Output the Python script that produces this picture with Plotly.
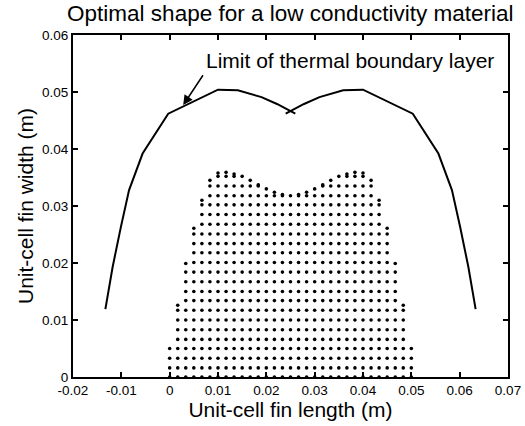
import plotly.graph_objects as go

# ---------------- data ----------------
x_tick_vals = [-0.02, -0.01, 0.0, 0.01, 0.02, 0.03, 0.04, 0.05, 0.06, 0.07]
x_tick_text = ["-0.02", "-0.01", "0", "0.01", "0.02", "0.03", "0.04", "0.05", "0.06", "0.07"]
y_tick_vals = [0.0, 0.01, 0.02, 0.03, 0.04, 0.05, 0.06]
y_tick_text = ["0", "0.01", "0.02", "0.03", "0.04", "0.05", "0.06"]

# material grid (dots): column positions, row heights, top row index per column, extra top node
col_x = [0.0, 0.00167, 0.00333, 0.005, 0.00667, 0.00833, 0.01, 0.01167, 0.01333, 0.015,
         0.01667, 0.01833, 0.02, 0.02167, 0.02333, 0.025, 0.02667, 0.02833, 0.03, 0.03167,
         0.03333, 0.035, 0.03667, 0.03833, 0.04, 0.04167, 0.04333, 0.045, 0.04667, 0.04833, 0.05]
row_y = [0.0, 0.0016, 0.0033, 0.0050, 0.0066, 0.0083, 0.0100, 0.0117, 0.0134, 0.0150, 0.0167,
         0.0184, 0.0201, 0.0218, 0.0234, 0.0251, 0.0268, 0.0285, 0.0302, 0.0318, 0.0335, 0.0352]
col_top_row = [3, 7, 11, 15, 18, 20, 21, 21, 21, 21, 20, 20, 19, 19, 19, 19,
               19, 19, 19, 20, 20, 21, 21, 21, 21, 20, 18, 15, 11, 7, 3]
col_extra = [None, 0.0126, 0.0199, 0.0261, 0.0310, 0.0345, 0.0358, 0.0359, 0.0356, None,
             0.0345, 0.0337, 0.0330, 0.0324, 0.0320, None, 0.0320, 0.0324, 0.0330, 0.0337,
             0.0345, None, 0.0356, 0.0359, 0.0358, 0.0345, 0.0310, 0.0261, 0.0199, 0.0126, None]

# limit of thermal boundary layer
bl_left_x = [-0.0133, -0.0118, -0.0101, -0.0084, -0.0056, -0.0003, 0.0100, 0.0141, 0.0190, 0.0222, 0.0260]
bl_left_y = [0.0119, 0.0193, 0.0263, 0.0328, 0.0392, 0.0462, 0.0504, 0.0503, 0.0491, 0.0479, 0.0462]
bl_right_x = [0.0240, 0.0278, 0.0310, 0.0359, 0.0400, 0.0503, 0.0556, 0.0584, 0.0601, 0.0618, 0.0633]
bl_right_y = [0.0462, 0.0479, 0.0491, 0.0503, 0.0504, 0.0462, 0.0392, 0.0328, 0.0263, 0.0193, 0.0119]

title_text = "Optimal shape for a low conductivity material"
x_title = "Unit-cell fin length (m)"
y_title = "Unit-cell fin width (m)"
note_text = "Limit of thermal boundary layer"
arrow_head = (0.0028, 0.0477)
arrow_tail = (0.0071, 0.0532)

# ---------------- build ----------------
dot_x, dot_y = [], []
for cx, top, extra in zip(col_x, col_top_row, col_extra):
    for k in range(top + 1):
        dot_x.append(cx)
        dot_y.append(row_y[k])
    if extra is not None:
        dot_x.append(cx)
        dot_y.append(extra)

FONT = "Liberation Sans, Arial, Helvetica, sans-serif"

fig = go.Figure()
fig.add_trace(go.Scatter(x=dot_x, y=dot_y, mode="markers",
                         marker=dict(size=3.6, color="black"), showlegend=False,
                         hoverinfo="skip"))
fig.add_trace(go.Scatter(x=bl_left_x, y=bl_left_y, mode="lines",
                         line=dict(color="black", width=2), showlegend=False))
fig.add_trace(go.Scatter(x=bl_right_x, y=bl_right_y, mode="lines",
                         line=dict(color="black", width=2), showlegend=False))

fig.add_annotation(x=arrow_head[0], y=arrow_head[1], ax=arrow_tail[0], ay=arrow_tail[1],
                   xref="x", yref="y", axref="x", ayref="y", text="",
                   showarrow=True, arrowhead=2, arrowsize=1.3, arrowwidth=1.5,
                   arrowcolor="black")
fig.add_annotation(x=arrow_tail[0], y=0.0555, xref="x", yref="y", text=note_text,
                   showarrow=False, xanchor="left", yanchor="middle",
                   font=dict(family=FONT, size=21, color="black"))

axis_common = dict(showline=True, linewidth=2, linecolor="black", mirror="allticks",
                   ticks="inside", ticklen=5, tickwidth=1.5, tickcolor="black",
                   showgrid=False, zeroline=False, automargin=False,
                   tickfont=dict(family=FONT, size=13.5, color="black"))

fig.update_xaxes(range=[-0.02, 0.07], tickmode="array", tickvals=x_tick_vals,
                 ticktext=x_tick_text,
                 title=dict(text=x_title, font=dict(family=FONT, size=21, color="black"),
                            standoff=3),
                 **axis_common)
fig.update_yaxes(range=[0, 0.06], tickmode="array", tickvals=y_tick_vals,
                 ticktext=y_tick_text,
                 title=dict(text=y_title, font=dict(family=FONT, size=21, color="black"),
                            standoff=3),
                 **axis_common)

fig.update_layout(
    width=525, height=426,
    margin=dict(l=73, r=17, t=35, b=49, pad=0),
    paper_bgcolor="white", plot_bgcolor="white",
    title=dict(text=title_text, x=0.553, xanchor="center", y=1 - 13 / 426,
               yanchor="middle", yref="container",
               font=dict(family=FONT, size=22.5, color="black")),
    font=dict(family=FONT, color="black"),
)

fig.write_html("out.html")
